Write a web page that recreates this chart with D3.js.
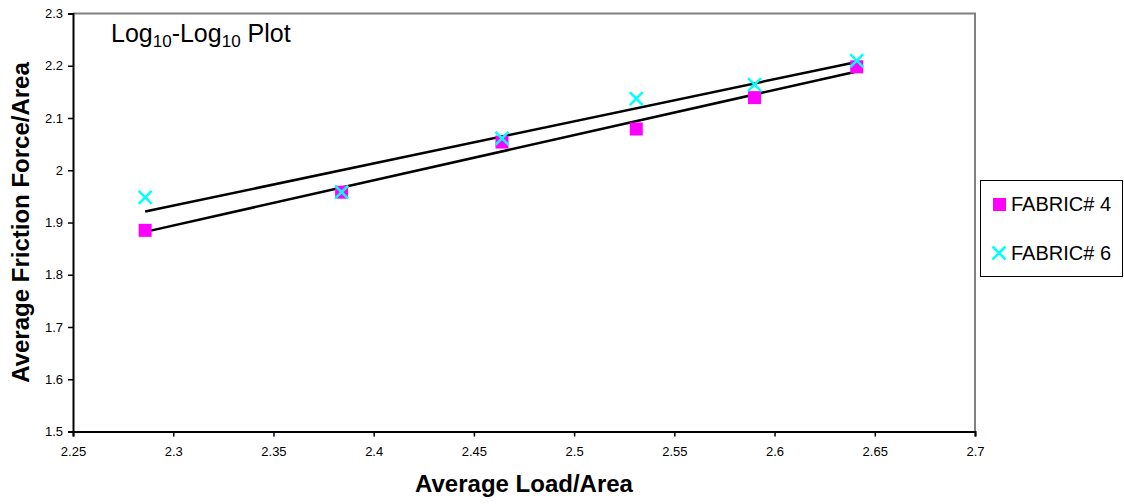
<!DOCTYPE html>
<html><head><meta charset="utf-8">
<script src="https://cdn.jsdelivr.net/npm/d3@7"></script>
<style>body{margin:0;background:#fff;}svg{display:block;font-family:"Liberation Sans",Arial,sans-serif;}</style>
</head><body>
<svg id="c" width="1124" height="504"></svg>
<script>
const seriesNames = ["FABRIC# 4", "FABRIC# 6"];
const xValues4 = [2.286, 2.384, 2.464, 2.531, 2.590, 2.641];
const yValues4 = [1.885, 1.958, 2.054, 2.079, 2.139, 2.198];
const xValues6 = [2.286, 2.384, 2.464, 2.531, 2.590, 2.641];
const yValues6 = [1.948, 1.958, 2.061, 2.137, 2.164, 2.210];
const xTicks = [2.25, 2.3, 2.35, 2.4, 2.45, 2.5, 2.55, 2.6, 2.65, 2.7];
const yTicks = [1.5, 1.6, 1.7, 1.8, 1.9, 2, 2.1, 2.2, 2.3];

const svg = d3.select("#c");
const L = 73, R = 975, T = 13.5, B = 431.5;
const x = d3.scaleLinear().domain([2.25, 2.7]).range([L, R]);
const y = d3.scaleLinear().domain([1.5, 2.3]).range([B, T]);

svg.append("path").attr("d", `M${L},${T}H${R}V${B}`).attr("fill","none").attr("stroke","#808080").attr("stroke-width",2);

const xa = svg.append("g").attr("transform",`translate(0,${B})`)
  .call(d3.axisBottom(x).tickValues(xTicks).tickSize(5).tickFormat(d=>String(+d.toFixed(2))));
const ya = svg.append("g").attr("transform",`translate(${L},0)`)
  .call(d3.axisLeft(y).tickValues(yTicks).tickSize(5).tickFormat(d=>String(+d.toFixed(1))));
[xa,ya].forEach(a=>{
  a.select(".domain").attr("stroke","#000").attr("stroke-width",2);
  a.selectAll(".tick line").attr("stroke","#000").attr("stroke-width",1.5);
  a.selectAll("text").attr("font-size",13).attr("fill","#000").attr("font-family","Liberation Sans, Arial, sans-serif");
});
xa.selectAll("text").attr("y",24.5).attr("dy",0);
ya.selectAll("text").attr("x",-10);

function fit(xs, ys){
  const mx=d3.mean(xs), my=d3.mean(ys);
  let sxy=0,sxx=0; xs.forEach((v,i)=>{sxy+=(v-mx)*(ys[i]-my); sxx+=(v-mx)*(v-mx);});
  const b=sxy/sxx, a=my-b*mx; return v=>a+b*v;
}
[[xValues4,yValues4],[xValues6,yValues6]].forEach(([xs,ys])=>{
  const f=fit(xs,ys); const x0=d3.min(xs), x1=d3.max(xs);
  svg.append("line").attr("x1",x(x0)).attr("y1",y(f(x0))).attr("x2",x(x1)).attr("y2",y(f(x1)))
    .attr("stroke","#000").attr("stroke-width",2.5);
});

const sq=13;
svg.selectAll(".sq").data(xValues4.map((v,i)=>[v,yValues4[i]])).enter().append("rect")
  .attr("x",d=>x(d[0])-sq/2).attr("y",d=>y(d[1])-sq/2).attr("width",sq).attr("height",sq).attr("fill","#ff00ff");
const cr=6.5;
function cross(g,cx,cy){
  g.append("path").attr("d",`M${cx-cr},${cy-cr}L${cx+cr},${cy+cr}M${cx-cr},${cy+cr}L${cx+cr},${cy-cr}`)
   .attr("stroke","#00ffff").attr("stroke-width",2.5).attr("fill","none");
}
xValues6.forEach((v,i)=>cross(svg,x(v),y(yValues6[i])));

const t=svg.append("text").attr("x",111).attr("y",42).attr("font-size",25).attr("fill","#000");
t.append("tspan").text("Log");
t.append("tspan").text("10").attr("font-size",17).attr("dy",5);
t.append("tspan").text("-Log").attr("dy",-5);
t.append("tspan").text("10").attr("font-size",17).attr("dy",5);
t.append("tspan").text(" Plot").attr("dy",-5);

svg.append("text").attr("x",(L+R)/2).attr("y",492).attr("text-anchor","middle").attr("font-size",24).attr("font-weight","bold").text("Average Load/Area");
svg.append("text").attr("transform",`translate(29,${(T+B)/2}) rotate(-90)`).attr("text-anchor","middle").attr("font-size",24).attr("font-weight","bold").text("Average Friction Force/Area");

svg.append("rect").attr("x",980.5).attr("y",180.5).attr("width",142).attr("height",96).attr("fill","#fff").attr("stroke","#000").attr("stroke-width",1);
svg.append("rect").attr("x",993).attr("y",198).attr("width",13).attr("height",13).attr("fill","#ff00ff");
cross(svg,999,253);
svg.append("text").attr("x",1011).attr("y",211).attr("font-size",20).text(seriesNames[0]);
svg.append("text").attr("x",1011).attr("y",260).attr("font-size",20).text(seriesNames[1]);
</script>
</body></html>
